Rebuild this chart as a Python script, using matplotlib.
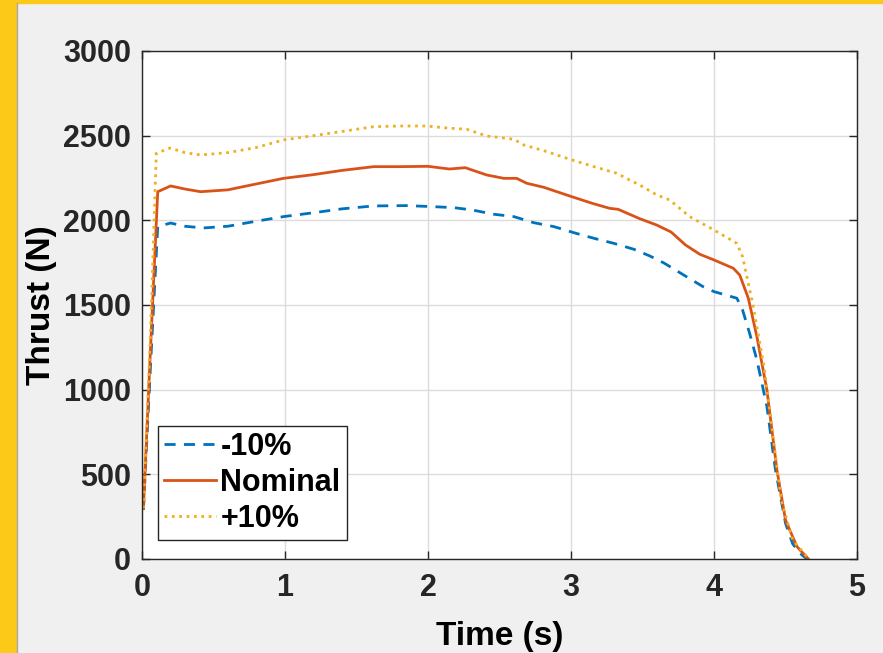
import matplotlib
matplotlib.use("Agg")
import matplotlib.pyplot as plt
from matplotlib.patches import Rectangle
from matplotlib.lines import Line2D

# -10% case
t_low = [0.01, 0.06, 0.11, 0.2, 0.3, 0.43, 0.6, 0.8, 0.99, 1.2, 1.4, 1.62, 1.85, 2.03,
         2.18, 2.31, 2.46, 2.6, 2.74, 2.88, 3.02, 3.16, 3.3, 3.44, 3.55, 3.65, 3.8,
         3.92, 4.0, 4.16, 4.2, 4.25, 4.3, 4.37, 4.43, 4.5, 4.55, 4.6, 4.65]
thrust_low = [290, 1150, 1963, 1984, 1965, 1955, 1965, 1995, 2022, 2045, 2068, 2085, 2087,
              2081, 2075, 2061, 2036, 2022, 1986, 1963, 1927, 1894, 1864, 1829, 1790,
              1748, 1671, 1610, 1579, 1540, 1470, 1330, 1175, 900, 526, 212, 90, 35, 0]

# nominal case
t_nom = [0.01, 0.06, 0.11, 0.2, 0.3, 0.41, 0.6, 0.8, 0.99, 1.2, 1.4, 1.62, 1.8, 2.0,
         2.15, 2.26, 2.41, 2.53, 2.62, 2.69, 2.81, 2.99, 3.15, 3.27, 3.33, 3.48, 3.6,
         3.7, 3.8, 3.9, 4.0, 4.135, 4.18, 4.24, 4.3, 4.37, 4.44, 4.5, 4.58, 4.66]
thrust_nom = [300, 1250, 2169, 2203, 2185, 2169, 2180, 2215, 2248, 2270, 2295, 2317, 2317,
              2319, 2303, 2311, 2268, 2248, 2248, 2219, 2195, 2144, 2100, 2071, 2065,
              2010, 1972, 1931, 1855, 1800, 1766, 1717, 1677, 1540, 1313, 998, 526,
              230, 73, 0]

# +10% case
t_high = [0.01, 0.06, 0.1, 0.196, 0.3, 0.41, 0.6, 0.8, 0.99, 1.2, 1.4, 1.62, 1.8, 1.99,
          2.15, 2.27, 2.41, 2.6, 2.67, 2.83, 2.99, 3.16, 3.32, 3.41, 3.48, 3.6, 3.69,
          3.83, 4.0, 4.16, 4.2, 4.27, 4.35, 4.41, 4.47, 4.55, 4.65]
thrust_high = [300, 1350, 2396, 2427, 2400, 2386, 2400, 2430, 2475, 2500, 2525, 2553, 2557,
               2557, 2544, 2538, 2498, 2479, 2445, 2406, 2361, 2317, 2278, 2238, 2209,
               2150, 2120, 2022, 1943, 1864, 1785, 1510, 1136, 744, 348, 112, 14]

labels = ["-10%", "Nominal", "+10%"]

plt.rcParams["font.family"] = ["Liberation Sans", "DejaVu Sans"]
plt.rcParams["font.weight"] = "bold"

fig = plt.figure(figsize=(8.83, 6.53), dpi=100, facecolor="#f0f0f0")

# yellow frame on the left and top
fig.patches.append(Rectangle((0, 0), 16 / 883, 1, transform=fig.transFigure,
                             color="#fdc918", zorder=0))
fig.patches.append(Rectangle((0, 1 - 3 / 653), 1, 3 / 653, transform=fig.transFigure,
                             color="#fdc918", zorder=0))
fig.add_artist(Line2D([16.5 / 883, 16.5 / 883], [0, 1 - 3 / 653], transform=fig.transFigure,
                      color="#a8a8a8", lw=1))

ax = fig.add_axes([142 / 883, 94 / 653, 715 / 883, 508 / 653])
ax.set_facecolor("white")

ax.plot(t_low, thrust_low, "--", color="#0072bd", lw=2, label=labels[0], dashes=(4, 3))
ax.plot(t_nom, thrust_nom, "-", color="#d95319", lw=2, label=labels[1])
ax.plot(t_high, thrust_high, ":", color="#edb120", lw=2, label=labels[2])

ax.set_xlim(0, 5)
ax.set_ylim(0, 3000)
ax.set_xticks([0, 1, 2, 3, 4, 5])
ax.set_yticks([0, 500, 1000, 1500, 2000, 2500, 3000])
ax.grid(True, color="#dcdcdc", lw=1)
ax.set_axisbelow(True)
ax.tick_params(direction="in", length=6, width=1, colors="#262626", labelsize=22,
               top=True, right=True)
ax.tick_params(axis="x", pad=10)
ax.tick_params(axis="y", pad=8)
for s in ax.spines.values():
    s.set_color("#262626")
    s.set_linewidth(1)

ax.set_xlabel("Time (s)", fontsize=24, fontweight="bold", labelpad=13)
ax.set_ylabel("Thrust (N)", fontsize=24, fontweight="bold", labelpad=4)

leg = ax.legend(loc="lower left", bbox_to_anchor=(0.022, 0.037), borderaxespad=0,
                fontsize=22, handlelength=1.7, handletextpad=0.15, labelspacing=0.2,
                borderpad=0.2, fancybox=False, framealpha=1, edgecolor="#262626")
leg.get_frame().set_linewidth(1)

plt.savefig("out.png", dpi=100, facecolor=fig.get_facecolor())
